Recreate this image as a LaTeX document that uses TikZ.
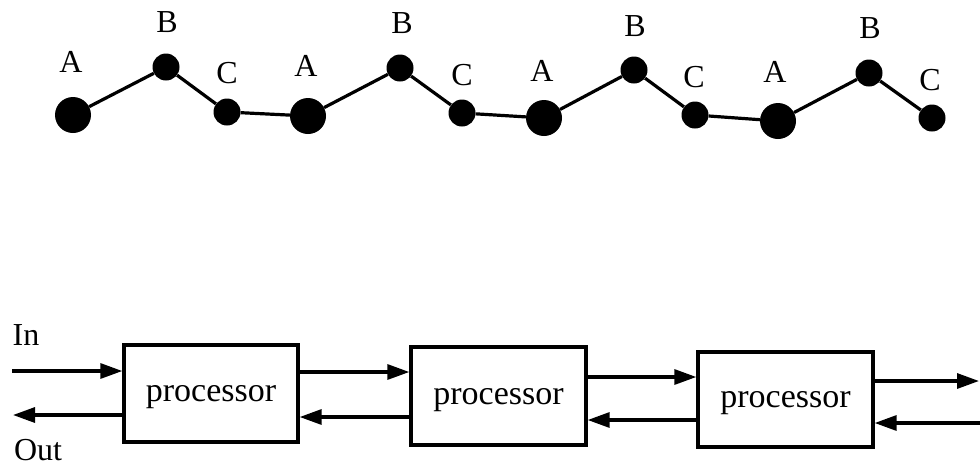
\documentclass[tikz,border=0pt]{standalone}
\usepackage{fontspec}
\setmainfont{Liberation Serif}
\usetikzlibrary{arrows.meta}
\newcommand\labfont{\fontsize{32}{38}\selectfont}
\newcommand\procfont{\fontsize{34}{40}\selectfont}
\tikzset{
  bigdot/.style={circle, fill=black, inner sep=0pt, minimum size=36pt},
  smalldot/.style={circle, fill=black, inner sep=0pt, minimum size=27pt},
  lab/.style={inner sep=0pt, font=\labfont},
  link/.style={line width=3.2pt},
  procbox/.style={draw, line width=3.3pt, inner sep=0pt, font=\procfont, text depth=0pt},
  arr/.style={line width=3.2pt, -{Triangle[length=22pt,width=15pt]}},
}
\begin{document}
\begin{tikzpicture}[x=1pt, y=-1pt]
\useasboundingbox (0,0) rectangle (980,467);
% chain
\node[bigdot]   (a1) at (73,115) {};
\node[smalldot] (b1) at (166,67) {};
\node[smalldot] (c1) at (227,112) {};
\node[bigdot]   (a2) at (308,116) {};
\node[smalldot] (b2) at (400,68) {};
\node[smalldot] (c2) at (462,113) {};
\node[bigdot]   (a3) at (544,118) {};
\node[smalldot] (b3) at (634,70) {};
\node[smalldot] (c3) at (695,115) {};
\node[bigdot]   (a4) at (778,121) {};
\node[smalldot] (b4) at (869,73) {};
\node[smalldot] (c4) at (932,118) {};
\draw[link] (a1) -- (b1) -- (c1) -- (a2) -- (b2) -- (c2) -- (a3) -- (b3) -- (c3) -- (a4) -- (b4) -- (c4);
% labels
\node[lab] (la1) at (71,62) {A};
\node[lab] (lb1) at (167,22) {B};
\node[lab] (lc1) at (227,73) {C};
\node[lab] (la2) at (306,66) {A};
\node[lab] (lb2) at (402,23) {B};
\node[lab] (lc2) at (462,75) {C};
\node[lab] (la3) at (542,71) {A};
\node[lab] (lb3) at (635,26) {B};
\node[lab] (lc3) at (694,77) {C};
\node[lab] (la4) at (775,72) {A};
\node[lab] (lb4) at (870,28) {B};
\node[lab] (lc4) at (930,80) {C};
% processors
\node[procbox, minimum width=174pt, minimum height=97pt] (p1) at (211,393.5) {processor};
\node[procbox, minimum width=175pt, minimum height=98pt] (p2) at (498.5,396) {processor};
\node[procbox, minimum width=175pt, minimum height=95pt] (p3) at (785.5,399.5) {processor};
% free ends
\coordinate (inL) at (12,371);
\coordinate (outL) at (13,415);
\coordinate (outR) at (979,381);
\coordinate (inR) at (980,423);
\node[lab] (inlab) at (26,335) {In};
\node[lab] (outlab) at (38,450) {Out};
% arrows
\draw[arr] (inL) -- (inL -| p1.west);
\draw[arr] ([yshift=-21.5pt]p1.west) -- ([yshift=-21.5pt]p1.west -| outL);
\draw[arr] ([yshift=21.5pt]p1.east) -- ([yshift=21.5pt]p1.east -| p2.west);
\draw[arr] ([yshift=-21pt]p2.west) -- ([yshift=-21pt]p2.west -| p1.east);
\draw[arr] ([yshift=19pt]p2.east) -- ([yshift=19pt]p2.east -| p3.west);
\draw[arr] ([yshift=-20.5pt]p3.west) -- ([yshift=-20.5pt]p3.west -| p2.east);
\draw[arr] ([yshift=18.5pt]p3.east) -- ([yshift=18.5pt]p3.east -| outR);
\draw[arr] (inR) -- (inR -| p3.east);
\end{tikzpicture}
\end{document}
